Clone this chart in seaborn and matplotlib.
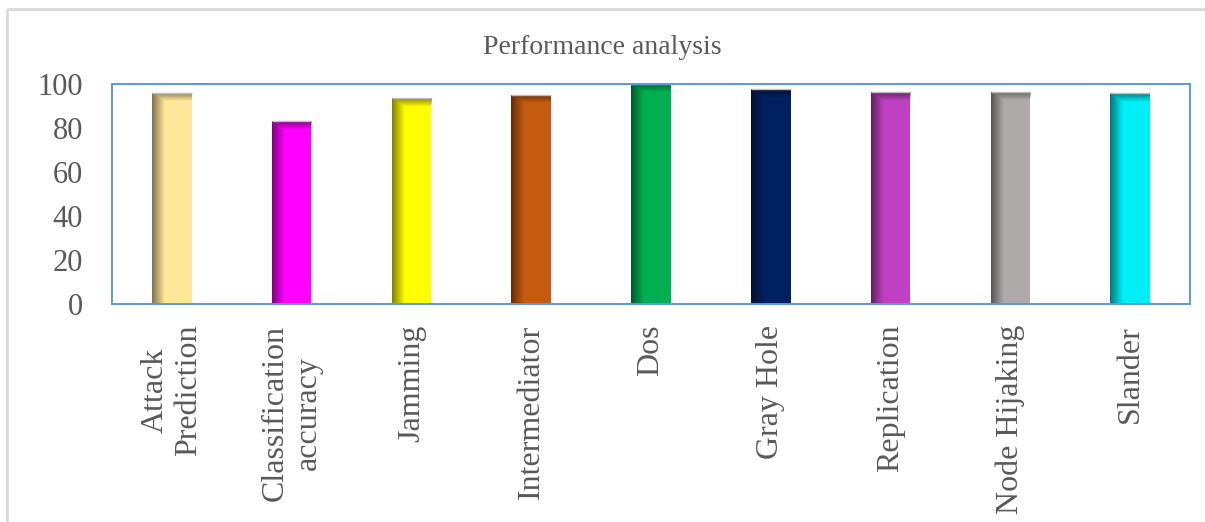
import numpy as np
import pandas as pd
import matplotlib
matplotlib.use("Agg")
import matplotlib.pyplot as plt
from matplotlib.lines import Line2D
import seaborn as sns

# Chart data
categories = ["Attack\nPrediction", "Classification\naccuracy", "Jamming", "Intermediator",
              "Dos", "Gray Hole", "Replication", "Node Hijaking", "Slander"]
scores = [96, 83, 93.5, 95, 100, 97.5, 96.2, 96.4, 95.8]
bar_colors = ["#FFE699", "#FF00FF", "#FFFF00", "#C55A11", "#00B050",
              "#002060", "#BF40C2", "#AEAAAA", "#00EEF8"]
y_ticks = [0, 20, 40, 60, 80, 100]

sns.set_theme(style="white")
plt.rcParams["font.family"] = ["Liberation Serif", "DejaVu Serif"]

text_grey = "#595959"
frame_blue = "#5B9BD5"

fig = plt.figure(figsize=(12.05, 5.22), dpi=100)
ax = fig.add_axes([112 / 1205, 1 - 304 / 522, (1190 - 112) / 1205, (304 - 84) / 522])

df = pd.DataFrame({"category": categories, "score": scores})
sns.barplot(data=df, x="category", y="score", hue="category", palette=bar_colors,
            width=0.33, legend=False, saturation=1, ax=ax, edgecolor="none")

ax.set_xlim(-0.5, len(categories) - 0.5)
ax.set_ylim(0, 100)

# Bevel-like shading on the left edge and top of every bar
for patch in ax.patches:
    x0, y0 = patch.get_x(), patch.get_y()
    w, h = patch.get_width(), patch.get_height()
    nx, ny = 60, 200
    xs = np.linspace(0, 1, nx)
    ys = np.linspace(y0 + h, y0, ny)  # top row first
    left = np.clip(1 - xs / 0.32, 0, 1) * 0.5
    top = np.clip(1 - (y0 + h - ys) / 3.8, 0, 1) * 0.45
    alpha = np.maximum(left[None, :], top[:, None])
    rgba = np.zeros((ny, nx, 4))
    rgba[..., 3] = alpha
    im = ax.imshow(rgba, extent=(x0, x0 + w, y0, y0 + h), aspect="auto",
                   interpolation="bilinear", zorder=patch.get_zorder() + 0.1)
    im.set_clip_path(patch)
    ax.plot([x0, x0 + w], [y0 + h, y0 + h], color="#BFBFBF", lw=1.0,
            zorder=patch.get_zorder() + 0.2, solid_capstyle="butt")

ax.set_xlim(-0.5, len(categories) - 0.5)
ax.set_ylim(0, 100)
ax.set_yticks(y_ticks)
ax.set_yticklabels([str(t) for t in y_ticks], fontsize=22, color=text_grey)
ax.set_xticks(range(len(categories)))
ax.set_xticklabels(categories, rotation=90, fontsize=23, color=text_grey,
                   ha="center", va="top", multialignment="center")
ax.tick_params(axis="y", length=0, pad=21)
ax.tick_params(axis="x", length=0, pad=15)
ax.set_xlabel("")
ax.set_ylabel("")

for side in ax.spines.values():
    side.set_visible(True)
    side.set_color(frame_blue)
    side.set_linewidth(1.4)

fig.text(0.5, 1 - 47 / 522, "Performance analysis", ha="center", va="center",
         fontsize=20, color=text_grey)

# Outer chart-area border (top and left edges)
border_y = 1 - 9 / 522
border_x = 7 / 1205
fig.lines.append(Line2D([border_x, 1.0], [border_y, border_y], transform=fig.transFigure,
                        color="#D9D9D9", linewidth=2, solid_capstyle="butt"))
fig.lines.append(Line2D([border_x, border_x], [0.0, border_y], transform=fig.transFigure,
                        color="#D9D9D9", linewidth=2, solid_capstyle="butt"))

fig.savefig("out.png", dpi=100)
